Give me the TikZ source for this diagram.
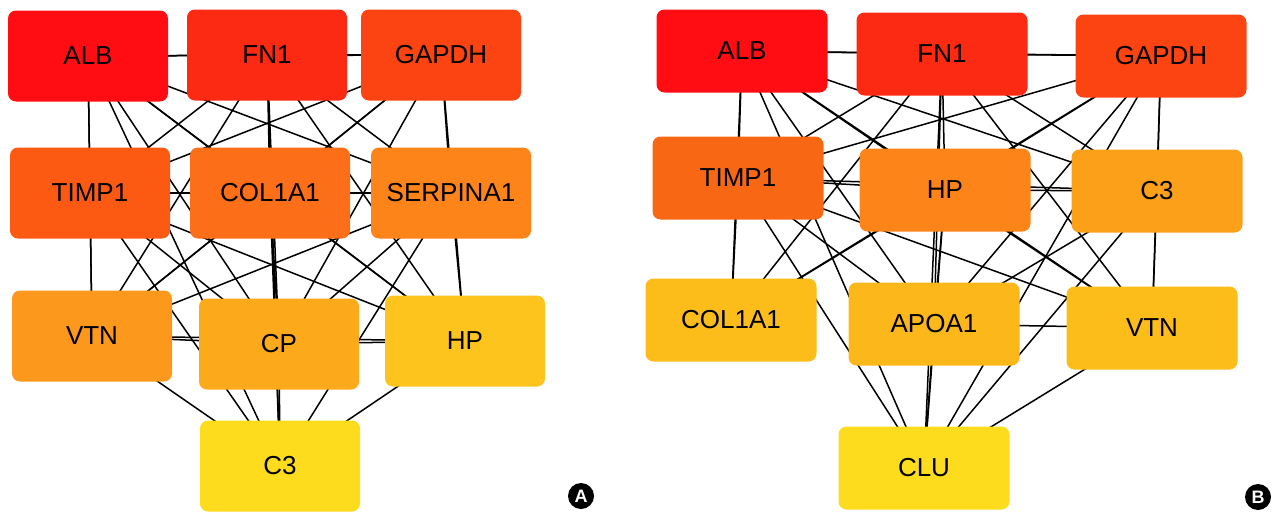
\documentclass[tikz,border=0pt]{standalone}
\usepackage{fontspec}
\setmainfont{Liberation Sans}
\usetikzlibrary{backgrounds}
\definecolor{cALB}{HTML}{FF0D12}
\definecolor{cFN}{HTML}{FC2A12}
\definecolor{cGAP}{HTML}{FC4412}
\definecolor{cTIMPa}{HTML}{FC5A12}
\definecolor{cCOLa}{HTML}{FC6E18}
\definecolor{cSERP}{HTML}{FC8418}
\definecolor{cVTNa}{HTML}{FC981C}
\definecolor{cCP}{HTML}{FCAA1C}
\definecolor{cHPa}{HTML}{FCC41C}
\definecolor{cCthreea}{HTML}{FCDC1C}
\definecolor{cTIMPb}{HTML}{F86814}
\definecolor{cHPb}{HTML}{FC8418}
\definecolor{cCthreeb}{HTML}{FCA01A}
\definecolor{cCOLb}{HTML}{FCBC1A}
\definecolor{cAPO}{HTML}{FCB81A}
\definecolor{cVTNb}{HTML}{FCBC1A}
\definecolor{cCLU}{HTML}{FCDC1C}
% pairs without an edge
\expandafter\def\csname skipA-3-10\endcsname{}
\expandafter\def\csname skipB-6-7\endcsname{}
\expandafter\def\csname skipB-7-8\endcsname{}
\expandafter\def\csname skipB-7-9\endcsname{}
\expandafter\def\csname skipB-7-10\endcsname{}
\tikzset{
  gene/.style={rectangle, rounded corners=8pt, draw=none, inner sep=0pt,
    font=\fontsize{26}{30}\selectfont, text=black},
  genea/.style={gene, minimum width=160pt, minimum height=91pt},
  geneb/.style={gene, minimum width=171pt, minimum height=83pt},
  edge/.style={draw=black, line width=1.5pt},
  panel/.style={circle, fill=black, text=white, inner sep=0pt, minimum size=26pt,
    font=\fontsize{18}{20}\selectfont\bfseries}
}
\begin{document}
\begin{tikzpicture}[x=1pt,y=-1pt]
\useasboundingbox (0,0) rectangle (1277,514);
% Panel A
\node[genea, fill=cALB] (aALB) at (88,56) {ALB};
\node[genea, fill=cFN] (aFN1) at (267,55) {FN1};
\node[genea, fill=cGAP] (aGAPDH) at (441,55) {GAPDH};
\node[genea, fill=cTIMPa] (aTIMP1) at (90,193) {TIMP1};
\node[genea, fill=cCOLa] (aCOL1A1) at (270,193) {COL1A1};
\node[genea, fill=cSERP] (aSERPINA1) at (451,193) {SERPINA1};
\node[genea, fill=cVTNa] (aVTN) at (92,336) {VTN};
\node[genea, fill=cCP] (aCP) at (279,344) {CP};
\node[genea, fill=cHPa] (aHP) at (465,341) {HP};
\node[genea, fill=cCthreea] (aC3) at (280,466) {C3};
% Panel B
\node[geneb, fill=cALB] (bALB) at (742,51) {ALB};
\node[geneb, fill=cFN] (bFN1) at (942,54) {FN1};
\node[geneb, fill=cGAP] (bGAPDH) at (1161,56) {GAPDH};
\node[geneb, fill=cTIMPb] (bTIMP1) at (738,178) {TIMP1};
\node[geneb, fill=cHPb] (bHP) at (945,190) {HP};
\node[geneb, fill=cCthreeb] (bC3) at (1157,191) {C3};
\node[geneb, fill=cCOLb] (bCOL1A1) at (731,320) {COL1A1};
\node[geneb, fill=cAPO] (bAPOA1) at (934,324) {APOA1};
\node[geneb, fill=cVTNb] (bVTN) at (1152,328) {VTN};
\node[geneb, fill=cCLU] (bCLU) at (924,468) {CLU};
% Edges
\begin{scope}[on background layer]
\foreach \a [count=\ai] in {aALB,aFN1,aGAPDH,aTIMP1,aCOL1A1,aSERPINA1,aVTN,aCP,aHP,aC3}{
  \foreach \b [count=\bi] in {aALB,aFN1,aGAPDH,aTIMP1,aCOL1A1,aSERPINA1,aVTN,aCP,aHP,aC3}{
    \ifnum\bi>\ai
      \ifcsname skipA-\ai-\bi\endcsname\else
        \draw[edge] (\a.center) -- (\b.center);
      \fi
    \fi
  }
}
\foreach \a [count=\ai] in {bALB,bFN1,bGAPDH,bTIMP1,bHP,bC3,bCOL1A1,bAPOA1,bVTN,bCLU}{
  \foreach \b [count=\bi] in {bALB,bFN1,bGAPDH,bTIMP1,bHP,bC3,bCOL1A1,bAPOA1,bVTN,bCLU}{
    \ifnum\bi>\ai
      \ifcsname skipB-\ai-\bi\endcsname\else
        \draw[edge] (\a.center) -- (\b.center);
      \fi
    \fi
  }
}
\end{scope}
% Panel labels
\node[panel] (labA) at (581,496) {A};
\node[panel] (labB) at (1258,497) {B};
\end{tikzpicture}
\end{document}
